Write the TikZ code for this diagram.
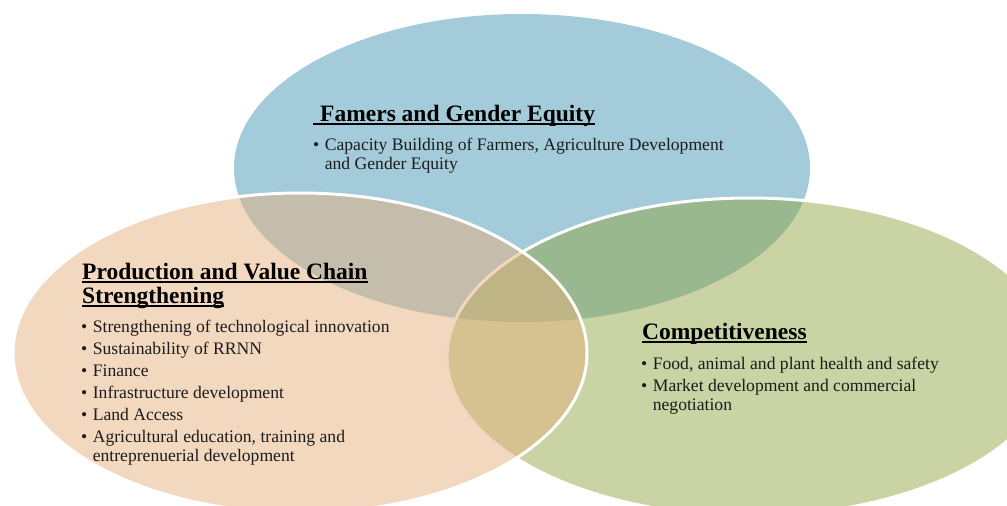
\documentclass[tikz,border=0pt]{standalone}
\usepackage{fontspec}
\setmainfont{Liberation Serif}
\usetikzlibrary{calc}
\definecolor{petalblue}{RGB}{71,151,179}
\definecolor{petalgreen}{RGB}{147,167,71}
\definecolor{petalorange}{RGB}{229,177,125}
\definecolor{inktext}{RGB}{28,28,28}
\newcommand{\vrow}{\\[3pt]}

\begin{document}
\begin{tikzpicture}[x=1pt,y=-1pt,
    petal/.style={fill opacity=0.5,draw=white,line width=3pt},
    headline/.style={anchor=base west,inner sep=0pt,text=black,
      font=\fontsize{23.5}{25}\selectfont\bfseries},
    headrule/.style={line width=1.6pt},
    itemlist/.style={anchor=north west,inner sep=0pt,text=inktext,
      font=\fontsize{17.6}{19}\selectfont}]
            \useasboundingbox (0,0) rectangle (1007,506);
            \clip (0,0) rectangle (1007,506);

            \fill[petalblue,fill opacity=0.5] (522,168) ellipse (288 and 154);
            \filldraw[petal,fill=petalgreen] (750,357) ellipse (303 and 159);
            \filldraw[petal,fill=petalorange] (300,353) ellipse (287 and 160);

            \node[headline] (farmhead) at (313,121) {\hspace*{7pt}Famers and Gender Equity};
            \node[itemlist] (farmlist) at (313,137) {\begin{tabular}{@{}l@{\hspace{5.5pt}}l@{}}
              \textbullet & Capacity Building of Farmers, Agriculture Development\\
                          & and Gender Equity
              \end{tabular}};

            \node[headline] (prodhead) at (82,279) {Production and Value Chain};
            \node[headline] (prodhead2) at (82,303) {Strengthening};
            \node[itemlist] (prodlist) at (81,319) {\begin{tabular}{@{}l@{\hspace{5.5pt}}l@{}}
              \textbullet & Strengthening of technological innovation\vrow
              \textbullet & Sustainability of RRNN\vrow
              \textbullet & Finance\vrow
              \textbullet & Infrastructure development\vrow
              \textbullet & Land Access\vrow
              \textbullet & Agricultural education, training and\\
                          & entreprenuerial development
              \end{tabular}};

            \node[headline] (comphead) at (642,339) {Competitiveness};
            \node[itemlist] (complist) at (641,356) {\begin{tabular}{@{}l@{\hspace{5.5pt}}l@{}}
              \textbullet & Food, animal and plant health and safety\vrow
              \textbullet & Market development and commercial\\
                          & negotiation
              \end{tabular}};

            \foreach \head in {farmhead,prodhead,prodhead2,comphead}
              \draw[headrule] ($(\head.base west)+(0,3)$) -- ($(\head.base east)+(0,3)$);
          \end{tikzpicture}
\end{document}
